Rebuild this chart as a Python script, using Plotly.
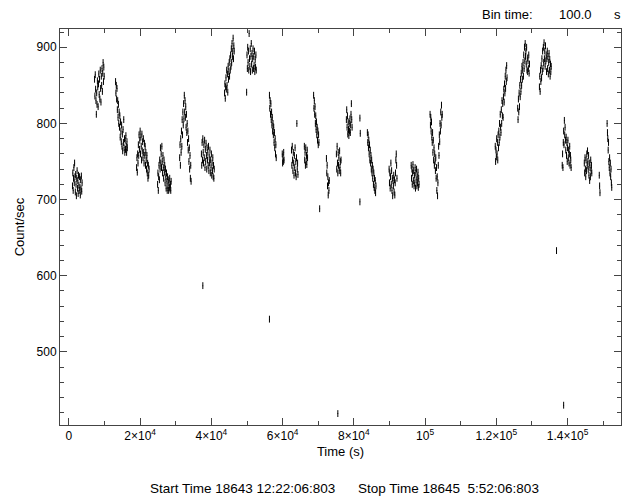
import plotly.graph_objects as go

BIN_TIME = 100.0  # s

# start time (s) of each good-time segment, and the count rates (count/s) in its 100 s bins
seg_starts = [1000, 7200, 13100, 19000, 24900, 31100, 37200, 43700, 49900, 56300,
              59900, 62500, 66100, 68700, 72300, 75100, 77900, 81700, 83800, 89900,
              96100, 101400, 119700, 126000, 132100, 138500, 144700, 148900, 151100]

seg01 = [718, 735, 712, 728, 742, 722, 748, 730, 710, 733, 720, 705, 728, 738, 715, 725, 708, 732, 719, 712, 730, 716, 706, 726, 714, 731, 711, 722]
seg02 = [858, 836, 864, 845, 830, 812, 840, 825, 856, 848, 822, 852, 865, 838, 858, 832, 870, 846, 828, 862, 850, 872, 842, 866, 880, 855, 874, 862]
seg03 = [855, 840, 850, 832, 846, 818, 830, 808, 825, 800, 815, 795, 810, 782, 802, 790, 776, 798, 770, 786, 764, 792, 775, 805, 768, 780, 762, 778, 766, 784, 770, 762, 776, 768]
seg04 = [742, 755, 736, 760, 748, 772, 758, 785, 766, 778, 790, 760, 782, 770, 752, 786, 764, 776, 755, 780, 762, 748, 774, 758, 770, 745, 762, 752, 740, 758, 735, 748, 728, 745, 732, 740]
seg05 = [720, 735, 712, 730, 745, 726, 752, 740, 768, 748, 760, 742, 770, 750, 735, 758, 742, 728, 752, 736, 745, 722, 740, 730, 715, 735, 724, 712, 730, 718, 726, 712, 722, 716, 728, 714, 720, 712, 724]
seg06 = [755, 772, 745, 780, 762, 790, 770, 805, 785, 815, 798, 826, 806, 837, 815, 830, 808, 822, 795, 812, 788, 800, 775, 790, 765, 780, 750, 768, 740, 758, 728, 745, 724]
seg07 = [760, 745, 775, 752, 780, 762, 748, 772, 755, 778, 742, 766, 750, 774, 758, 740, 768, 752, 762, 745, 770, 738, 756, 748, 765, 735, 752, 742, 760, 732, 748, 738, 755, 730, 745, 728, 740]
seg08 = [840, 852, 833, 848, 860, 845, 870, 850, 865, 841, 875, 858, 868, 880, 862, 885, 870, 890, 875, 898, 880, 905, 888, 895, 912, 885, 902, 895]
seg09 = [841, 890, 872, 900, 880, 895, 870, 918, 885, 875, 898, 868, 888, 905, 878, 892, 870, 885, 898, 872, 888, 876, 895, 868, 884, 874, 890, 870]
seg10 = [837, 820, 830, 812, 826, 805, 815, 798, 808, 790, 800, 785, 795, 775, 788, 768, 780, 760, 772, 755]
seg11 = [760, 748, 756, 750, 762, 752]
seg12 = [765, 745, 770, 752, 738, 762, 748, 732, 758, 742, 768, 735, 750, 730, 755, 800, 740, 748, 733]
seg13 = [770, 752, 762, 745, 768, 750, 758, 746, 765, 755]
seg14 = [837, 820, 830, 812, 822, 800, 810, 792, 802, 785, 795, 778, 790, 772, 785, 775]
seg15 = [754, 735, 745, 718, 730, 706, 722, 712, 725]
seg16 = [760, 740, 770, 748, 735, 762, 745, 755, 738, 764, 742, 750, 735, 752]
seg17 = [805, 818, 795, 810, 786, 802, 792, 784, 800, 790, 806, 788, 798, 812, 826, 805, 795]
seg18 = [807, 787]
seg19 = [788, 775, 785, 768, 778, 760, 772, 752, 765, 748, 758, 740, 752, 735, 745, 728, 740, 720, 735, 716, 728, 712, 725, 709, 718]
seg20 = [740, 722, 735, 715, 730, 748, 720, 738, 712, 728, 705, 725, 718, 732, 710, 726, 706, 722, 735, 752, 760, 745, 728]
seg21 = [745, 728, 740, 720, 735, 746, 725, 738, 718, 732, 722, 742, 715, 735, 726, 740, 718, 730, 722, 736, 716, 728, 720]
seg22 = [812, 798, 808, 790, 802, 782, 775, 788, 762, 778, 752, 768, 745, 760, 750, 738, 755, 728, 742, 712, 730, 705, 722, 745, 770, 758, 785, 776, 800, 790, 815, 798, 824, 808, 812]
seg23 = [770, 750, 765, 756, 780, 760, 775, 752, 785, 768, 790, 775, 800, 782, 812, 795, 788, 818, 800, 830, 810, 826, 808, 835, 845, 828, 852, 840, 862, 846, 870, 855, 876, 860]
seg24 = [820, 805, 832, 815, 840, 822, 850, 835, 858, 842, 866, 850, 875, 858, 870, 880, 862, 890, 872, 900, 882, 905, 888, 895, 878, 900, 870, 886, 868, 882, 872, 890, 866, 878]
seg25 = [848, 862, 842, 870, 855, 876, 860, 885, 868, 895, 872, 900, 880, 906, 885, 895, 875, 902, 882, 890, 868, 885, 895, 872, 888, 865, 880, 892, 870, 884, 862, 878, 868, 875]
seg26 = [745, 760, 742, 775, 790, 772, 804, 785, 795, 778, 765, 782, 758, 775, 750, 768, 778, 755, 765, 748, 760, 770, 745, 758, 752, 742]
seg27 = [748, 735, 755, 740, 730, 752, 738, 760, 745, 764, 750, 740, 758, 732, 748, 725, 742, 730, 752, 738, 745, 735]
seg28 = [732, 718, 709]
seg29 = [800, 788, 780, 765, 775, 750, 742, 755, 735, 748, 730, 740, 722, 716]

seg_counts = [seg01, seg02, seg03, seg04, seg05, seg06, seg07, seg08, seg09, seg10,
              seg11, seg12, seg13, seg14, seg15, seg16, seg17, seg18, seg19, seg20,
              seg21, seg22, seg23, seg24, seg25, seg26, seg27, seg28, seg29]

# isolated low bins
out_times = [37600, 56300, 70400, 75500, 81700, 136900, 138900]
out_counts = [587, 543, 688, 419, 697, 633, 430]

count_err = 4.5  # count/s, typical 1-sigma

x_tickvals = [0, 20000, 40000, 60000, 80000, 100000, 120000, 140000]
x_ticktext = ["0", "2×10<sup>4</sup>", "4×10<sup>4</sup>", "6×10<sup>4</sup>",
              "8×10<sup>4</sup>", "10<sup>5</sup>", "1.2×10<sup>5</sup>", "1.4×10<sup>5</sup>"]
x_minor = [10000, 30000, 50000, 70000, 90000, 110000, 130000, 150000]

times, rates = [], []
for start, counts in zip(seg_starts, seg_counts):
    for i, c in enumerate(counts):
        times.append(start + i * BIN_TIME)
        rates.append(c)
times += out_times
rates += out_counts

FONT = "Liberation Sans, Arial, Helvetica, sans-serif"

fig = go.Figure()
fig.add_trace(go.Scatter(
    x=times, y=rates, mode="markers",
    marker=dict(size=1, color="black"),
    error_y=dict(type="constant", value=count_err, width=0, thickness=1, color="black"),
    showlegend=False, hoverinfo="x+y",
))

axis_common = dict(
    showline=True, linecolor="#444", linewidth=1, mirror="allticks",
    ticks="inside", ticklen=7, tickcolor="#444", tickwidth=1,
    showgrid=False, zeroline=False, automargin=False,
    tickfont=dict(family=FONT, size=12, color="black"),
)

fig.update_xaxes(
    range=[-2500, 155000], tickmode="array", tickvals=x_tickvals, ticktext=x_ticktext,
    minor=dict(tickmode="array", tickvals=x_minor, ticks="inside", ticklen=4, tickcolor="#444"),
    title=dict(text="Time (s)", font=dict(family=FONT, size=13, color="black"), standoff=4),
    **axis_common,
)
fig.update_yaxes(
    range=[404, 924], tickmode="linear", tick0=0, dtick=100,
    minor=dict(tickmode="linear", tick0=0, dtick=20, ticks="inside", ticklen=4, tickcolor="#444"),
    title=dict(text="Count/sec", font=dict(family=FONT, size=13, color="black"), standoff=9),
    **axis_common,
)

W, H = 627, 499
L, R, T, B = 60, 6, 29, 74
pw, ph = W - L - R, H - T - B

def px(xp):
    return (xp - L) / pw

def py(yp):
    return (H - B - yp) / ph

ann_font = dict(family=FONT, size=13, color="black")
bot_font = dict(family=FONT, size=13.5, color="black")
fig.add_annotation(text="Bin time:", x=px(480), y=py(14), xref="paper", yref="paper",
                   xanchor="left", yanchor="middle", showarrow=False, font=ann_font)
fig.add_annotation(text="100.0", x=px(557), y=py(14), xref="paper", yref="paper",
                   xanchor="left", yanchor="middle", showarrow=False, font=ann_font)
fig.add_annotation(text="s", x=px(617), y=py(14), xref="paper", yref="paper",
                   xanchor="center", yanchor="middle", showarrow=False, font=ann_font)
fig.add_annotation(text="Start Time 18643 12:22:06:803", x=px(148), y=py(488), xref="paper", yref="paper",
                   xanchor="left", yanchor="middle", showarrow=False, font=bot_font)
fig.add_annotation(text="Stop Time 18645\u00a0\u00a05:52:06:803", x=px(541), y=py(488), xref="paper", yref="paper",
                   xanchor="right", yanchor="middle", showarrow=False, font=bot_font)

fig.update_layout(
    width=W, height=H,
    margin=dict(l=L, r=R, t=T, b=B, autoexpand=False),
    paper_bgcolor="white", plot_bgcolor="white",
    font=dict(family=FONT, size=12, color="black"),
)

fig.write_html(
    "out.html",
    config={"displayModeBar": False},
    post_script="document.body.style.margin='0';document.body.style.padding='0';document.body.style.overflow='hidden';",
)
